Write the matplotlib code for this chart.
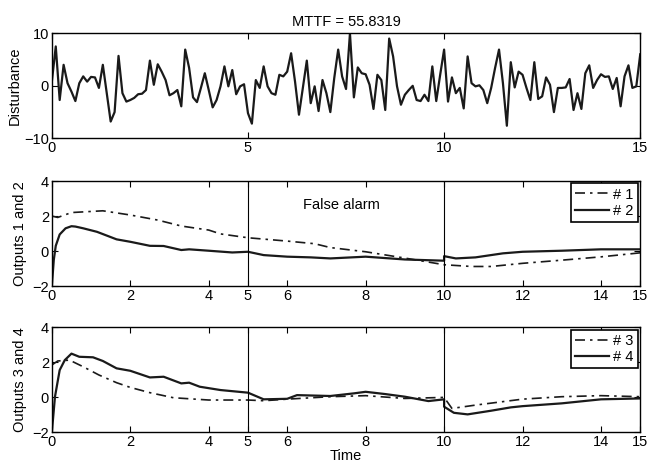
import numpy as np
from matplotlib import pyplot as plt

plt.rcParams['font.family'] = ['Liberation Sans', 'DejaVu Sans']
plt.rcParams['font.size'] = 10.5

# disturbance, sampled every 0.1 s from 0 to 15
disturbance = [
    0.8, 7.5, -2.7, 4.0, 0.5, -1.1, -2.9, 0.5, 1.8, 0.8,
    1.7, 1.6, -0.4, 4.0, -1.4, -6.8, -5.0, 5.7, -1.4, -3.0,
    -2.7, -2.3, -1.6, -1.5, -0.8, 4.8, 0.2, 4.1, 2.7, 1.1,
    -1.8, -1.4, -0.8, -3.9, 6.9, 3.4, -2.2, -3.1, -0.4, 2.4,
    -0.8, -4.1, -2.7, -0.1, 3.7, -0.1, 3.0, -1.6, -0.1, 0.3,
    -5.2, -7.2, 1.1, -0.4, 3.7, -0.1, -1.4, -1.7, 2.1, 1.8,
    2.7, 6.2, 0.8, -5.5, -0.4, 4.8, -3.3, -0.1, -4.8, 1.1,
    -1.4, -5.0, 1.5, 6.9, 1.8, -0.6, 10.0, -2.2, 3.5, 2.4,
    2.2, 0.2, -4.4, 2.1, 1.1, -4.6, 9.0, 5.6, -0.1, -3.6,
    -1.7, -0.8, 0.0, -2.7, -2.9, -1.7, -2.9, 3.7, -2.9, 2.1,
    6.9, -3.0, 1.6, -1.4, -0.4, -4.3, 5.6, 0.5, -0.1, 0.1,
    -0.8, -3.3, -0.4, 3.4, 6.9, 0.5, -7.6, 4.5, -0.3, 2.7,
    2.1, -0.4, -2.7, 4.5, -2.5, -2.0, 1.6, 0.2, -5.0, -0.4,
    -0.4, -0.3, 1.3, -4.6, -1.4, -4.4, 2.4, 3.9, -0.4, 1.1,
    2.2, 1.7, 1.8, -0.6, 1.5, -3.9, 1.8, 3.9, -0.4, -0.1,
    6.0,
]
t_dist = np.arange(len(disturbance)) * 0.1

t1 = [0, 0.15, 0.5, 1.3, 2, 2.7, 3.3, 4, 4.3, 5, 6, 6.7, 7.1, 8, 9, 10,
      10.7, 11.2, 12, 13, 14, 15]
y1 = [2.0, 1.92, 2.2, 2.3, 2.06, 1.77, 1.43, 1.2, 0.98, 0.76, 0.57, 0.42,
      0.2, -0.04, -0.4, -0.78, -0.88, -0.88, -0.7, -0.52, -0.33, -0.1]

t2 = [0, 0.05, 0.1, 0.2, 0.35, 0.5, 0.6, 0.8, 1.15, 1.65, 2, 2.5, 2.85,
      3.3, 3.5, 4, 4.6, 5, 5.4, 6, 6.6, 7.1, 8, 9, 10, 10, 10.3, 10.8,
      11.5, 12, 13, 14, 15]
y2 = [-2, -0.5, 0.3, 0.95, 1.3, 1.42, 1.4, 1.3, 1.1, 0.67, 0.53, 0.3, 0.29,
      0.06, 0.1, 0.02, -0.08, -0.04, -0.23, -0.32, -0.36, -0.42, -0.32,
      -0.48, -0.55, -0.29, -0.42, -0.36, -0.13, -0.04, 0.02, 0.1, 0.1]

t3 = [0, 0.15, 0.45, 0.8, 1.2, 1.65, 2, 2.5, 3.1, 4, 5, 5.4, 6, 7.1, 8, 9,
      10, 10.2, 10.8, 12, 13, 14, 15]
y3 = [1.85, 2.08, 2.13, 1.75, 1.28, 0.84, 0.57, 0.27, -0.02, -0.15, -0.15,
      -0.19, -0.1, 0.04, 0.1, -0.06, 0.0, -0.63, -0.44, -0.1, 0.04, 0.1, 0.04]

t4 = [0, 0.08, 0.2, 0.33, 0.5, 0.7, 1.05, 1.3, 1.65, 2, 2.5, 2.85, 3.3, 3.5,
      3.77, 4.3, 5, 5.4, 6, 6.25, 7.1, 7.7, 8, 8.5, 9, 9.6, 10, 10, 10.25,
      10.6, 11.2, 11.7, 12, 13, 14, 15]
y4 = [-2, 0.04, 1.56, 2.13, 2.5, 2.32, 2.29, 2.08, 1.66, 1.52, 1.14, 1.18,
      0.8, 0.84, 0.61, 0.42, 0.27, -0.11, -0.08, 0.13, 0.08, 0.23, 0.32, 0.19,
      0.04, -0.21, -0.11, -0.53, -0.88, -0.97, -0.76, -0.57, -0.5, -0.34,
      -0.11, -0.06]

alarms = [5, 10]
out_ticks = [0, 2, 4, 5, 6, 8, 10, 12, 14, 15]
dashdot = (0, (6, 3, 1.5, 3))


def style(ax):
    ax.tick_params(direction='in', top=True, right=True, length=4, width=0.8,
                   pad=2)
    for s in ax.spines.values():
        s.set_linewidth(1.0)


def add_legend(ax):
    leg = ax.legend(loc='upper right', borderaxespad=0.15, handlelength=2.3,
                    fancybox=False, framealpha=1, borderpad=0.3,
                    labelspacing=0.15, handletextpad=0.3)
    leg.get_frame().set_edgecolor('black')
    leg.get_frame().set_linewidth(1.2)


fig = plt.figure(figsize=(6.48, 4.69), dpi=100)

ax0 = fig.add_axes([0.080, 0.705, 0.908, 0.224])
ax0.plot(t_dist, disturbance, color='#1a1a1a', lw=1.6)
ax0.set_xlim(0, 15)
ax0.set_ylim(-10, 10)
ax0.set_xticks([0, 5, 10, 15])
ax0.set_yticks([-10, 0, 10])
ax0.set_yticklabels(['\u221210', '0', '10'])
ax0.set_ylabel('Disturbance', labelpad=2)
ax0.set_title('MTTF = 55.8319', fontsize=10.5, pad=5)
style(ax0)

ax1 = fig.add_axes([0.080, 0.390, 0.908, 0.224])
ax1.plot(t1, y1, color='#1a1a1a', lw=1.2, ls=dashdot, label='# 1')
ax1.plot(t2, y2, color='#1a1a1a', lw=1.6, label='# 2')
for a in alarms:
    ax1.axvline(a, color='black', lw=0.8)
ax1.text(6.4, 2.65, 'False alarm', va='center', ha='left')
ax1.set_xlim(0, 15)
ax1.set_ylim(-2, 4)
ax1.set_xticks(out_ticks)
ax1.set_yticks([-2, 0, 2, 4])
ax1.set_yticklabels(['\u22122', '0', '2', '4'])
ax1.set_ylabel('Outputs 1 and 2', labelpad=4)
add_legend(ax1)
style(ax1)

ax2 = fig.add_axes([0.080, 0.078, 0.908, 0.224])
ax2.plot(t3, y3, color='#1a1a1a', lw=1.2, ls=dashdot, label='# 3')
ax2.plot(t4, y4, color='#1a1a1a', lw=1.6, label='# 4')
for a in alarms:
    ax2.axvline(a, color='black', lw=0.8)
ax2.set_xlim(0, 15)
ax2.set_ylim(-2, 4)
ax2.set_xticks(out_ticks)
ax2.set_yticks([-2, 0, 2, 4])
ax2.set_yticklabels(['\u22122', '0', '2', '4'])
ax2.set_ylabel('Outputs 3 and 4', labelpad=4)
ax2.set_xlabel('Time', labelpad=0)
add_legend(ax2)
style(ax2)

fig.savefig('out.png', dpi=100)
